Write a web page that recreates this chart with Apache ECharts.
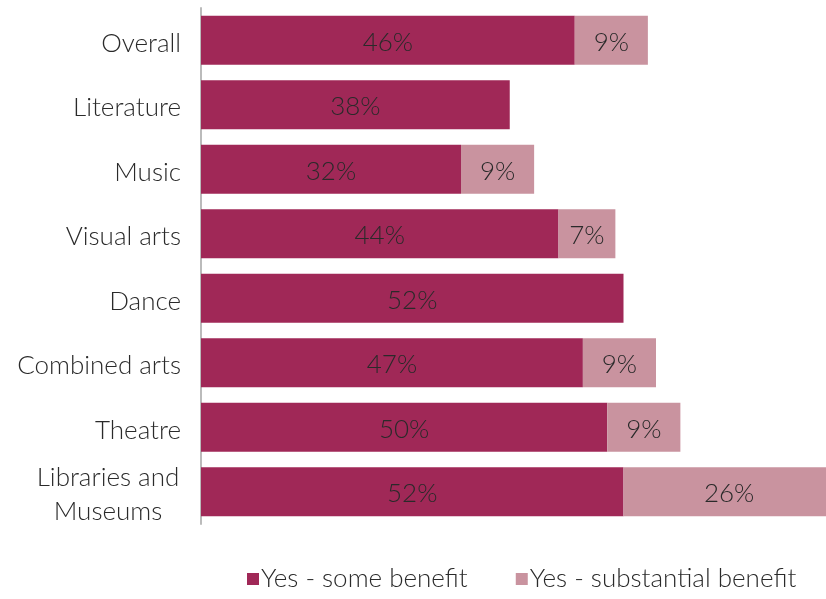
<!DOCTYPE html>
<html>
<head>
<meta charset="utf-8">
<script src="https://cdn.jsdelivr.net/npm/echarts@6/dist/echarts.min.js"></script>
<style>
  html, body { margin: 0; padding: 0; background: #fff; }
  #chart { width: 826px; height: 599px; }
</style>
</head>
<body>
<div id="chart"></div>
<script>
// Share reporting a benefit, by artform
const categories = ['Overall', 'Literature', 'Music', 'Visual arts', 'Dance', 'Combined arts', 'Theatre', 'Libraries and Museums'];
const someBenefit = [46, 38, 32, 44, 52, 47, 50, 52];
const substantialBenefit = [9, null, 9, 7, null, 9, 9, 26];
const seriesNames = ['Yes - some benefit', 'Yes - substantial benefit'];

const FONT = 'Lato, "Open Sans", sans-serif';
const TEXT = '#2a2a2a';

const chart = echarts.init(document.getElementById('chart'), null, { renderer: 'canvas' });

const barLabel = {
  show: true,
  position: 'inside',
  offset: [0, 2],
  formatter: p => (p.value == null ? '' : p.value + '%'),
  color: TEXT,
  fontFamily: FONT,
  fontWeight: 300,
  fontSize: 26
};

chart.setOption({
  backgroundColor: '#ffffff',
  animation: false,
  // The last bar deliberately runs past the right edge of the canvas
  grid: { left: 201, width: 650, top: 8, bottom: 75, containLabel: false, outerBoundsMode: 'none' },
  xAxis: {
    type: 'value',
    min: 0,
    max: 80,
    show: false
  },
  yAxis: {
    type: 'category',
    inverse: true,
    data: categories,
    axisLine: { show: true, lineStyle: { color: '#bbbbbb', width: 2 } },
    axisTick: { show: false },
    axisLabel: {
      margin: 20,
      padding: [6, 0, 0, 0],
      color: TEXT,
      fontFamily: FONT,
      fontWeight: 300,
      fontSize: 26,
      formatter: v => v === 'Libraries and Museums' ? '{lib|Libraries and\nMuseums}' : v,
      rich: {
        lib: { width: 146, align: 'center', color: TEXT, fontFamily: FONT, fontWeight: 300, fontSize: 26, lineHeight: 34 }
      }
    }
  },
  legend: {
    bottom: 2,
    left: 242,
    itemWidth: 12,
    itemHeight: 12,
    itemGap: 48,
    icon: 'rect',
    textStyle: { color: TEXT, fontFamily: FONT, fontWeight: 300, fontSize: 26, padding: [0, 0, 0, -3] },
    data: seriesNames
  },
  series: [
    {
      name: seriesNames[0],
      type: 'bar',
      stack: 'benefit',
      barWidth: 49,
      data: someBenefit,
      itemStyle: { color: '#a02857' },
      label: barLabel
    },
    {
      name: seriesNames[1],
      type: 'bar',
      stack: 'benefit',
      barWidth: 49,
      data: substantialBenefit,
      itemStyle: { color: '#c9939f' },
      label: barLabel
    }
  ]
});
</script>
</body>
</html>
